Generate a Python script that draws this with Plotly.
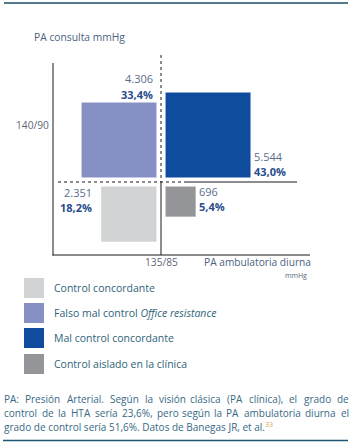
import math
import plotly.graph_objects as go

W, H = 353, 445

# ---------------- data ----------------
categories = [
    "Control concordante",
    "Falso mal control <i>Office resistance</i>",
    "Mal control concordante",
    "Control aislado en la clínica",
]
patients = [2351, 4306, 5544, 696]
percents = [18.2, 33.4, 43.0, 5.4]
# quadrant of each group: ambulatory BP (-1 controlled / +1 high), office BP (-1 / +1)
amb_side = [-1, -1, 1, 1]
office_side = [-1, 1, 1, -1]
colors = ["#d2d3d5", "#8690c5", "#0f4c9d", "#949598"]

x_tick_label = "135/85"
y_tick_label = "140/90"
x_title = "PA ambulatoria diurna"
x_unit = "mmHg"
y_title = "PA consulta mmHg"
footnote_lines = [
    "PA: Presión Arterial. Según la visión clásica (PA clínica), el grado de",
    "control de la HTA sería 23,6%, pero según la PA ambulatoria diurna el",
    "grado de control sería 51,6%. Datos de Banegas JR, et al.",
]
footnote_ref = "33"

# ---------------- geometry helpers ----------------
FONT = "Open Sans"
S = 12.96            # pixels per unit (square side = sqrt(percent) units)
CX, CY = 161, 182    # crosshair (threshold) position in pixels
GAP = 0.35


def ux(px):
    return (px - CX) / S


def uy(py):
    return (CY - py) / S


def pxp(x):
    return x / W


def pyp(y):
    return 1 - y / H


# approximate Open Sans advance widths (1/1000 em) for justification
_OS = {" ": 260, "a": 556, "b": 613, "c": 476, "d": 613, "e": 561, "f": 339, "g": 548,
       "h": 614, "i": 253, "j": 253, "k": 525, "l": 253, "m": 930, "n": 614, "o": 604,
       "p": 613, "q": 613, "r": 408, "s": 477, "t": 353, "u": 614, "v": 501, "w": 778,
       "x": 524, "y": 501, "z": 479, "A": 633, "B": 648, "C": 631, "D": 729, "E": 556,
       "G": 728, "H": 738, "J": 267, "P": 602, "R": 618, "S": 549, "T": 553, ",": 244,
       ".": 266, ":": 266, "(": 295, ")": 295, "%": 828, "/": 367}
_ACC = {"á": "a", "é": "e", "í": "i", "ó": "o", "ú": "u", "ñ": "n"}


def text_w(s, size):
    tot = 0
    for c in s:
        c = _ACC.get(c, c)
        tot += 572 if c.isdigit() else _OS.get(c, 560)
    return tot * size / 1000


fig = go.Figure()
annotations = []
shapes = []

fmt_n = lambda n: f"{n:,}".replace(",", ".")
fmt_p = lambda p: f"{p:.1f}".replace(".", ",") + "%"

COUNT_COLOR = "#5b6d8e"
PCT_COLOR = "#2a4e8c"

for i, cat in enumerate(categories):
    side = math.sqrt(percents[i])
    if amb_side[i] > 0:
        x0, x1 = GAP, GAP + side
    else:
        x0, x1 = -GAP - side, -GAP
    if office_side[i] > 0:
        y0, y1 = GAP, GAP + side
    else:
        y0, y1 = -GAP - side, -GAP
    fig.add_trace(go.Scatter(
        x=[x0, x1, x1, x0, x0], y=[y0, y0, y1, y1, y0],
        fill="toself", fillcolor=colors[i], mode="lines",
        line=dict(width=0, color=colors[i]), hoverinfo="skip", showlegend=False,
    ))
    # label placement
    if i == 0:      # left of square, top aligned
        lx, anchor = x0 - 7 / S, "right"
        yc, yp = y1 - 6 / S, y1 - 21 / S
    elif i == 1:    # above square, right aligned
        lx, anchor = x1 - 1 / S, "right"
        yc, yp = y1 + 24 / S, y1 + 8 / S
    elif i == 2:    # right of square, bottom aligned
        lx, anchor = x1 + 1 / S, "left"
        yc, yp = y0 + 21 / S, y0 + 5.5 / S
    else:           # right of square, top aligned
        lx, anchor = x1 + 1 / S, "left"
        yc, yp = y1 - 5 / S, y1 - 20 / S
    annotations.append(dict(x=lx, y=yc, xref="x", yref="y", text=fmt_n(patients[i]),
                            xanchor=anchor, yanchor="middle", showarrow=False,
                            font=dict(family=FONT, size=11, color=COUNT_COLOR)))
    annotations.append(dict(x=lx, y=yp, xref="x", yref="y", text="<b>" + fmt_p(percents[i]) + "</b>",
                            xanchor=anchor, yanchor="middle", showarrow=False,
                            font=dict(family=FONT, size=11, color=PCT_COLOR)))

# axes lines (data coords)
AX = "#1a1a1a"
shapes += [
    dict(type="line", xref="x", yref="y", x0=ux(53), x1=ux(53), y0=uy(63), y1=uy(255.5),
         line=dict(color=AX, width=1)),
    dict(type="line", xref="x", yref="y", x0=ux(52.5), x1=ux(310), y0=uy(255), y1=uy(255),
         line=dict(color=AX, width=1)),
    # thresholds
    dict(type="line", xref="x", yref="y", x0=0, x1=0, y0=uy(55), y1=0,
         line=dict(color=AX, width=1, dash="dot")),
    dict(type="line", xref="x", yref="y", x0=0, x1=0, y0=0, y1=uy(255),
         line=dict(color=AX, width=1)),
    dict(type="line", xref="x", yref="y", x0=ux(58), x1=ux(187), y0=0, y1=0,
         line=dict(color=AX, width=1, dash="dot")),
    dict(type="line", xref="x", yref="y", x0=ux(187), x1=ux(297), y0=0, y1=0,
         line=dict(color=AX, width=1)),
    # frame lines
    dict(type="line", xref="paper", yref="paper", x0=pxp(4), x1=pxp(348), y0=pyp(3), y1=pyp(3),
         line=dict(color="#1c4c68", width=1.3)),
    dict(type="line", xref="paper", yref="paper", x0=pxp(3), x1=pxp(348), y0=pyp(440.5), y1=pyp(440.5),
         line=dict(color="#1c5670", width=1.3)),
]

LBL = "#5d6679"
TITLE = "#4a5f82"
annotations += [
    dict(x=pxp(32), y=pyp(37), xref="paper", yref="paper", text=y_title, xanchor="left",
         yanchor="middle", showarrow=False, font=dict(family=FONT, size=10.3, color=TITLE)),
    dict(x=pxp(51), y=pyp(125), xref="paper", yref="paper", text=y_tick_label, xanchor="right",
         yanchor="middle", showarrow=False, font=dict(family=FONT, size=10.2, color=LBL)),
    dict(x=0, y=uy(262), xref="x", yref="y", text=x_tick_label, xanchor="center",
         yanchor="middle", showarrow=False, font=dict(family=FONT, size=10.2, color=LBL)),
    dict(x=pxp(202), y=pyp(262), xref="paper", yref="paper", text=x_title, xanchor="left",
         yanchor="middle", showarrow=False, font=dict(family=FONT, size=10.2, color=TITLE)),
    dict(x=pxp(309), y=pyp(275), xref="paper", yref="paper", text=x_unit, xanchor="right",
         yanchor="middle", showarrow=False, font=dict(family=FONT, size=7, color=LBL)),
]

# legend
leg_y = [288, 313, 338, 364]
for i, cat in enumerate(categories):
    shapes.append(dict(type="rect", xref="paper", yref="paper", x0=pxp(24), x1=pxp(44),
                       y0=pyp(leg_y[i] - 10), y1=pyp(leg_y[i] + 10),
                       fillcolor=colors[i], line=dict(width=0)))
    annotations.append(dict(x=pxp(52), y=pyp(leg_y[i]), xref="paper", yref="paper", text=cat,
                            xanchor="left", yanchor="middle", showarrow=False,
                            font=dict(family=FONT, size=10.5, color="#2f6479")))

# footnote (first lines justified word by word, last line ragged)
FOOT = "#386985"
FS = 10
foot_y = [399.4, 413.1, 426.8]
XL, XR = 3, 350
for li, (t, y) in enumerate(zip(footnote_lines, foot_y)):
    fnt = dict(family=FONT, size=FS, color=FOOT)
    if li == len(footnote_lines) - 1:
        annotations.append(dict(x=pxp(XL), y=pyp(y), xref="paper", yref="paper",
                                text=t + f"<sup><span style='color:#d8a25c'>{footnote_ref}</span></sup>",
                                xanchor="left", yanchor="middle", showarrow=False,
                                borderpad=0, font=fnt))
        continue
    words = t.split(" ")
    ws = [text_w(w, FS) for w in words]
    n = len(words)
    gap = (XR - XL - sum(ws)) / (n - 1)
    for k, w in enumerate(words):
        if k < n / 2:
            xpos, anc = XL + sum(ws[:k]) + k * gap, "left"
        else:
            xpos, anc = XR - sum(ws[k + 1:]) - (n - 1 - k) * gap, "right"
        annotations.append(dict(x=pxp(xpos), y=pyp(y), xref="paper", yref="paper", text=w,
                                xanchor=anc, yanchor="middle", showarrow=False,
                                borderpad=0, font=fnt))

fig.update_layout(
    width=W, height=H, margin=dict(l=0, r=0, t=0, b=0, pad=0),
    paper_bgcolor="white", plot_bgcolor="white",
    xaxis=dict(range=[ux(0), ux(W)], domain=[0, 1], visible=False, fixedrange=True),
    yaxis=dict(range=[uy(H), uy(0)], domain=[0, 1], visible=False, fixedrange=True),
    shapes=shapes, annotations=annotations, showlegend=False,
)

fig.write_html("out.html", config={"displayModeBar": False},
               post_script="document.body.style.margin='0';")
